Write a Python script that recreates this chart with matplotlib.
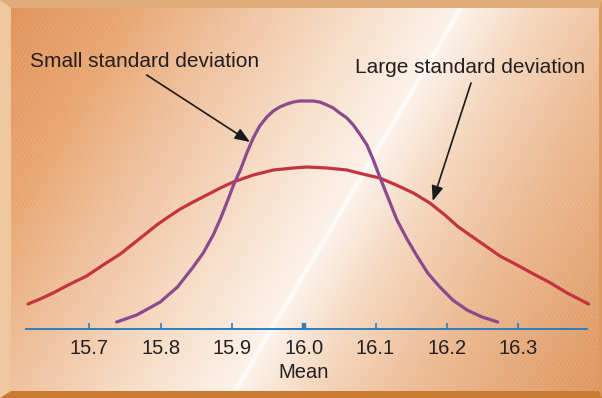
import numpy as np
import matplotlib
matplotlib.use("Agg")
import matplotlib.pyplot as plt
from matplotlib.patches import Polygon

plt.rcParams['font.family'] = ['Liberation Sans', 'DejaVu Sans']

# values (x = mean value, y = relative height above the axis)
small_x = [15.738, 15.766, 15.799, 15.823, 15.845, 15.859, 15.873, 15.883, 15.894,
           15.902, 15.911, 15.920, 15.929, 15.938, 15.948, 15.957, 15.966, 15.976,
           15.985, 15.994, 16.004, 16.013, 16.022, 16.032, 16.041, 16.050, 16.060,
           16.069, 16.078, 16.088, 16.097, 16.106, 16.130, 16.144, 16.158, 16.173,
           16.190, 16.208, 16.228, 16.249, 16.271]
small_y = [7, 14, 27, 42, 62, 76, 94, 110, 130, 145, 159, 176, 191, 203, 212, 218,
           222, 225, 227, 228, 228, 228, 227, 224, 221, 216, 211, 204, 195, 184, 169,
           152, 109, 90, 73, 56, 42, 29, 19, 12, 7]

large_x = [15.614, 15.631, 15.649, 15.673, 15.696, 15.719, 15.743, 15.766, 15.780,
           15.794, 15.808, 15.827, 15.845, 15.864, 15.883, 15.901, 15.929, 15.957,
           15.985, 16.004, 16.032, 16.060, 16.082, 16.106, 16.129, 16.153, 16.176,
           16.197, 16.216, 16.274, 16.298, 16.321, 16.345, 16.368, 16.398]
large_y = [25, 30, 36, 45, 53, 64, 75, 88, 96, 104, 111, 120, 127, 134, 141, 147,
           154, 159, 161, 162, 161, 159, 155, 151, 144, 136, 126, 114, 102, 73, 64,
           55, 46, 36, 25]

tick_vals = [15.7, 15.8, 15.9, 16.0, 16.1, 16.2, 16.3]
tick_labels = ["15.7", "15.8", "15.9", "16.0", "16.1", "16.2", "16.3"]
axis_range = [15.61, 16.397]

W, H = 602, 398
fig = plt.figure(figsize=(W / 100, H / 100), dpi=100)
ax = fig.add_axes([0, 0, 1, 1])

# pixel <-> data mapping
px_per_unit = 715.0
x0 = 16.0 - 304 / px_per_unit
x1 = 16.0 + (W - 304) / px_per_unit
ax.set_xlim(x0, x1)
ax.set_ylim(329 - H, 329)
ax.axis("off")

# background gradient with a diagonal bright streak and fine stripes
yy, xx = np.mgrid[0:H, 0:W].astype(float)
u = xx + 0.59 * yy
stops = [0, 130, 250, 380, 465, 540, 650, 830]
cols = np.array([(226, 144, 86), (232, 165, 112), (240, 195, 160), (248, 225, 205),
                 (252, 242, 234), (245, 215, 190), (236, 185, 145), (222, 150, 95)]) / 255
img = np.stack([np.interp(u, stops, cols[:, i]) for i in range(3)], axis=-1)
streak = np.clip(1 - np.abs(u - 465) / 4, 0, 1)[..., None] * 0.9
img = img * (1 - streak) + streak
stripe = ((u % 4) < 1.2)[..., None] * 0.09
img = img * (1 - stripe) + stripe
ax.imshow(img, extent=[x0, x1, 329 - H, 329], aspect="auto", zorder=0,
          interpolation="bilinear")

# bevelled frame
def fp(x, y):
    return (x / W, 1 - y / H)

L, T, R, B = 11, 8, 599, 391
frame = [
    ([(0, 0), (W, 0), (R, T), (L, T)], "#e2ad7c"),
    ([(0, 0), (L, T), (L, B), (0, H)], "#efc79e"),
    ([(0, H), (L, B), (R, B), (W, H)], "#c97b36"),
    ([(W, 0), (W, H), (R, B), (R, T)], "#dc9a5e"),
]
for pts, c in frame:
    fig.patches.append(Polygon([fp(*p) for p in pts], closed=True, fc=c, ec="none",
                               transform=fig.transFigure, zorder=5))

# horizontal axis
blue = "#2a7fc0"
ax.plot(axis_range, [0, 0], color=blue, lw=1.4, solid_capstyle="butt", zorder=3)
for v, lab in zip(tick_vals, tick_labels):
    ax.plot([v, v], [0, 6], color=blue, lw=3.2 if lab == "16.0" else 1.2,
            solid_capstyle="butt", zorder=3)
    ax.text(v, -19, lab, ha="center", va="center", fontsize=14.5, color="#231f20")
ax.text(16.0, -43.5, "Mean", ha="center", va="center", fontsize=14.5, color="#231f20")

# curves
ax.plot(large_x, large_y, color="#c3343f", lw=2.3, zorder=4, solid_capstyle="round",
        solid_joinstyle="round")
ax.plot(small_x, small_y, color="#8b4a8c", lw=2.3, zorder=4, solid_capstyle="round",
        solid_joinstyle="round")

# labels with arrows
arrow = dict(arrowstyle="-|>,head_length=0.9,head_width=0.35", color="#1a1a1a",
             lw=1.2, shrinkA=0, shrinkB=0)
ax.text(15.617, 262, "Small standard deviation", fontsize=15, color="#231f20",
        va="baseline", ha="left")
ax.annotate("", xy=(15.9245, 187), xytext=(15.780, 254), arrowprops=arrow)
ax.text(16.0713, 256, "Large standard deviation", fontsize=15, color="#231f20",
        va="baseline", ha="left")
ax.annotate("", xy=(16.180, 128), xytext=(16.2336, 246), arrowprops=arrow)

fig.savefig("out.png", dpi=100)
